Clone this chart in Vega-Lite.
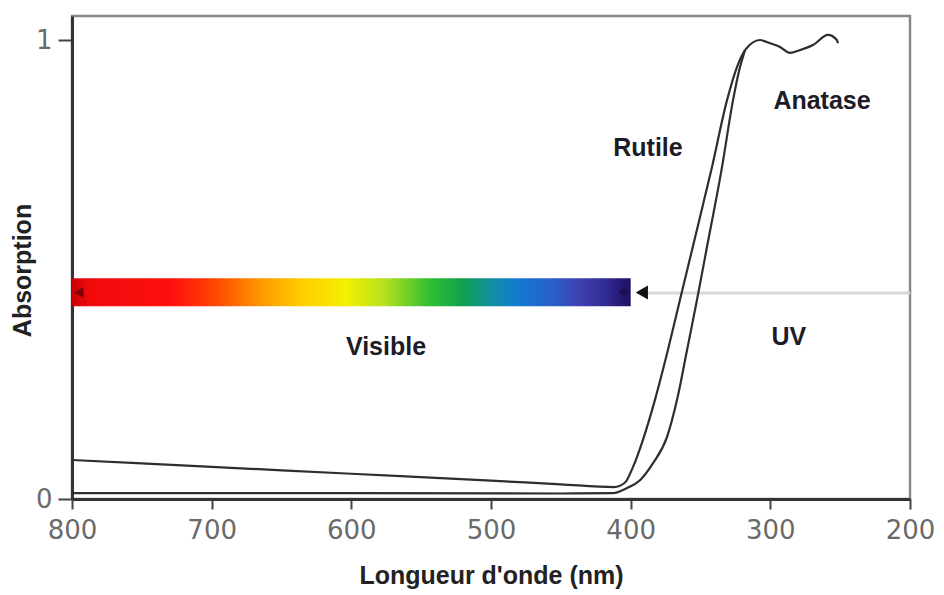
{
  "$schema": "https://vega.github.io/schema/vega-lite/v6.json",
  "width": 838,
  "height": 483,
  "autosize": {"type": "none"},
  "padding": {"left": 72, "top": 16, "right": 34, "bottom": 96},
  "background": "white",
  "config": {
    "view": {"stroke": "#8a8a8a", "strokeWidth": 2.5},
    "font": "Liberation Sans"
  },
  "datasets": {
    "curves": [
      {"series": "Rutile", "nm": 800, "a": 0.085},
      {"series": "Rutile", "nm": 700, "a": 0.070},
      {"series": "Rutile", "nm": 600, "a": 0.055},
      {"series": "Rutile", "nm": 500, "a": 0.040},
      {"series": "Rutile", "nm": 450, "a": 0.032},
      {"series": "Rutile", "nm": 412, "a": 0.026},
      {"series": "Rutile", "nm": 404, "a": 0.036},
      {"series": "Rutile", "nm": 398.3, "a": 0.070},
      {"series": "Rutile", "nm": 391.2, "a": 0.129},
      {"series": "Rutile", "nm": 382.6, "a": 0.216},
      {"series": "Rutile", "nm": 373.3, "a": 0.325},
      {"series": "Rutile", "nm": 364.7, "a": 0.434},
      {"series": "Rutile", "nm": 356.1, "a": 0.542},
      {"series": "Rutile", "nm": 341.8, "a": 0.723},
      {"series": "Rutile", "nm": 331.0, "a": 0.869},
      {"series": "Rutile", "nm": 323.9, "a": 0.941},
      {"series": "Rutile", "nm": 318.1, "a": 0.978},
      {"series": "Rutile", "nm": 307.4, "a": 1.0},
      {"series": "Rutile", "nm": 300.2, "a": 0.993},
      {"series": "Rutile", "nm": 293.1, "a": 0.985},
      {"series": "Rutile", "nm": 285.9, "a": 0.972},
      {"series": "Rutile", "nm": 278.8, "a": 0.978},
      {"series": "Rutile", "nm": 269.5, "a": 0.989},
      {"series": "Rutile", "nm": 258.7, "a": 1.011},
      {"series": "Rutile", "nm": 252.4, "a": 1.0},
      {"series": "Rutile", "nm": 251.6, "a": 0.993},
      {"series": "Anatase", "nm": 800, "a": 0.013},
      {"series": "Anatase", "nm": 600, "a": 0.013},
      {"series": "Anatase", "nm": 450, "a": 0.012},
      {"series": "Anatase", "nm": 412.7, "a": 0.013},
      {"series": "Anatase", "nm": 402.6, "a": 0.024},
      {"series": "Anatase", "nm": 393.3, "a": 0.041},
      {"series": "Anatase", "nm": 384.0, "a": 0.078},
      {"series": "Anatase", "nm": 374.0, "a": 0.135},
      {"series": "Anatase", "nm": 366.8, "a": 0.216},
      {"series": "Anatase", "nm": 359.6, "a": 0.325},
      {"series": "Anatase", "nm": 352.5, "a": 0.434},
      {"series": "Anatase", "nm": 345.8, "a": 0.542},
      {"series": "Anatase", "nm": 334.6, "a": 0.723},
      {"series": "Anatase", "nm": 326.7, "a": 0.869},
      {"series": "Anatase", "nm": 321.7, "a": 0.941},
      {"series": "Anatase", "nm": 318.1, "a": 0.978}
    ],
    "spectrum": [{"start": 800, "end": 400, "low": 0.420, "high": 0.481}],
    "guide": [{"start": 395, "end": 200, "level": 0.449}],
    "arrowLeft": [{"nm": 795, "a": 0.450}],
    "arrowInner": [{"nm": 404.5, "a": 0.450}],
    "arrowHead": [{"nm": 392, "a": 0.450}],
    "labels": [
      {"nm": 263, "a": 0.867, "text": "Anatase"},
      {"nm": 387.6, "a": 0.765, "text": "Rutile"},
      {"nm": 575.2, "a": 0.331, "text": "Visible"},
      {"nm": 286.7, "a": 0.353, "text": "UV"}
    ]
  },
  "encoding": {
    "x": {
      "field": "nm", "type": "quantitative",
      "scale": {"domain": [800, 200], "nice": false, "zero": false},
      "axis": {
        "title": "Longueur d'onde (nm)",
        "values": [800, 700, 600, 500, 400, 300, 200],
        "grid": false,
        "domainColor": "#333", "domainWidth": 3,
        "tickColor": "#444", "tickWidth": 2, "tickSize": 10,
        "labelFont": "DejaVu Sans", "labelFontSize": 26, "labelColor": "#6a6a6a",
        "labelPadding": 8, "labelFlush": false,
        "titleFont": "Liberation Sans", "titleFontSize": 25, "titleFontWeight": "bold",
        "titleColor": "#222", "titlePadding": 20
      }
    },
    "y": {
      "field": "a", "type": "quantitative",
      "scale": {"domain": [0, 1.0523], "nice": false, "zero": false},
      "axis": {
        "title": "Absorption",
        "values": [0, 0.5, 1],
        "format": "d",
        "labelExpr": "datum.value == 0.5 ? '' : datum.label",
        "grid": false,
        "domainColor": "#333", "domainWidth": 3,
        "tickColor": "#444", "tickWidth": 2, "tickSize": 14,
        "labelFont": "DejaVu Sans", "labelFontSize": 26, "labelColor": "#6a6a6a",
        "labelPadding": 6,
        "titleFont": "Liberation Sans", "titleFontSize": 25, "titleFontWeight": "bold",
        "titleColor": "#222", "titleX": -50, "titleY": 254,
        "titleAngle": -90, "titleBaseline": "middle", "titleAlign": "center"
      }
    }
  },
  "layer": [
    {
      "data": {"name": "guide"},
      "mark": {"type": "rule", "color": "#d8d8d8", "strokeWidth": 3},
      "encoding": {
        "x": {"field": "start", "type": "quantitative"},
        "x2": {"field": "end"},
        "y": {"field": "level", "type": "quantitative"}
      }
    },
    {
      "data": {"name": "spectrum"},
      "mark": {
        "type": "rect",
        "fill": {
          "gradient": "linear", "x1": 0, "y1": 0, "x2": 1, "y2": 0,
          "stops": [
            {"offset": 0.0, "color": "#c8000a"},
            {"offset": 0.03, "color": "#f00a0a"},
            {"offset": 0.18, "color": "#ff1010"},
            {"offset": 0.26, "color": "#ff4a00"},
            {"offset": 0.34, "color": "#ff9a00"},
            {"offset": 0.41, "color": "#ffcc00"},
            {"offset": 0.49, "color": "#f4f000"},
            {"offset": 0.56, "color": "#b4e020"},
            {"offset": 0.64, "color": "#30c030"},
            {"offset": 0.70, "color": "#10a050"},
            {"offset": 0.75, "color": "#1090a0"},
            {"offset": 0.80, "color": "#1478d2"},
            {"offset": 0.86, "color": "#2860c8"},
            {"offset": 0.91, "color": "#4040b0"},
            {"offset": 0.96, "color": "#302890"},
            {"offset": 1.0, "color": "#201060"}
          ]
        }
      },
      "encoding": {
        "x": {"field": "start", "type": "quantitative"},
        "x2": {"field": "end"},
        "y": {"field": "low", "type": "quantitative"},
        "y2": {"field": "high"}
      }
    },
    {
      "data": {"name": "arrowLeft"},
      "mark": {"type": "point", "shape": "triangle-left", "filled": true, "opacity": 1, "color": "#7a0010", "size": 110},
      "encoding": {}
    },
    {
      "data": {"name": "arrowInner"},
      "mark": {"type": "point", "shape": "cross", "filled": true, "opacity": 1, "color": "#1a1050", "size": 90},
      "encoding": {}
    },
    {
      "data": {"name": "arrowHead"},
      "mark": {"type": "point", "shape": "triangle-left", "filled": true, "opacity": 1, "color": "#111111", "size": 200},
      "encoding": {}
    },
    {
      "data": {"name": "curves"},
      "mark": {"type": "line", "color": "#2e2e2e", "strokeWidth": 2.2, "interpolate": "monotone"},
      "encoding": {
        "detail": {"field": "series", "type": "nominal"},
        "order": {"field": "nm", "type": "quantitative", "sort": "descending"}
      }
    },
    {
      "data": {"name": "labels"},
      "mark": {"type": "text", "font": "Liberation Sans", "fontSize": 25, "fontWeight": "bold", "color": "#1c1c28", "align": "center", "baseline": "middle"},
      "encoding": {
        "text": {"field": "text", "type": "nominal"}
      }
    }
  ]
}
